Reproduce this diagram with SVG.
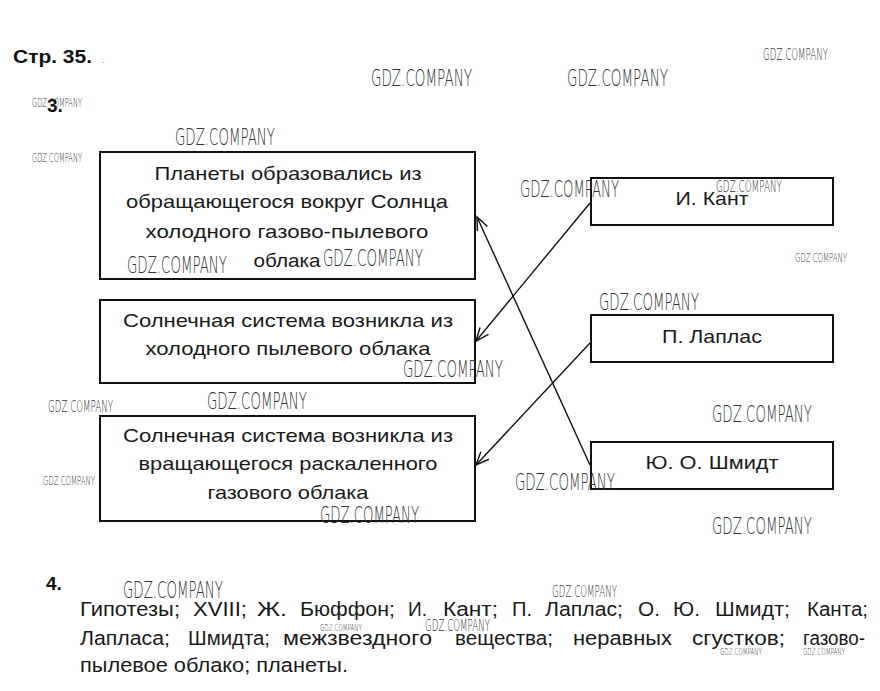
<svg xmlns="http://www.w3.org/2000/svg" width="880" height="691" viewBox="0 0 880 691">
<style>
.bg{fill:#fff}
.box{fill:#fff;stroke:#111;stroke-width:2}
.t{font-family:"Liberation Sans",Arial,sans-serif;font-size:19px;fill:#1a1a1a;text-anchor:middle}
.p{font-family:"Liberation Sans",Arial,sans-serif;font-size:20px;fill:#1a1a1a}
.h{font-family:"Liberation Sans",Arial,sans-serif;font-size:19px;font-weight:bold;fill:#111}
.wm{font-family:"DejaVu Sans",sans-serif;font-weight:200;fill:#333}
.wl{font-size:23px}
.wmd{font-size:16px}
.ws{font-size:12px}
.wt{font-size:9px}
.c{fill:none;stroke:#111;stroke-width:1.4}
</style>
<defs>
<marker id="ah" markerUnits="userSpaceOnUse" viewBox="-14 -7 16 14" refX="0" refY="0" markerWidth="16" markerHeight="14" orient="auto">
<path d="M-13,-5.5 L0,0 L-13,5.5" fill="none" stroke="#111" stroke-width="1.4"/>
</marker>
</defs>
<rect class="bg" x="0" y="0" width="880" height="691"/>

<text class="h" x="13" y="63" textLength="79" lengthAdjust="spacingAndGlyphs">Стр. 35.</text>
<text x="102" y="63" style="font-family:'Liberation Sans',sans-serif;font-size:10px;fill:#999">.</text>
<text class="h" x="47" y="112">3.</text>
<text class="h" x="46" y="590">4.</text>

<g id="n1">
<rect class="box" x="100" y="152" width="375" height="127"/>
<text class="t" x="288" y="180" textLength="267" lengthAdjust="spacingAndGlyphs">Планеты образовались из</text>
<text class="t" x="287" y="208" textLength="322" lengthAdjust="spacingAndGlyphs">обращающегося вокруг Солнца</text>
<text class="t" x="287" y="238" textLength="283" lengthAdjust="spacingAndGlyphs">холодного газово-пылевого</text>
<text class="t" x="287" y="267" textLength="67" lengthAdjust="spacingAndGlyphs">облака</text>
</g>
<g id="n2">
<rect class="box" x="100" y="300" width="375" height="83"/>
<text class="t" x="288" y="327" textLength="330" lengthAdjust="spacingAndGlyphs">Солнечная система возникла из</text>
<text class="t" x="288" y="355" textLength="285" lengthAdjust="spacingAndGlyphs">холодного пылевого облака</text>
</g>
<g id="n3">
<rect class="box" x="100" y="416" width="375" height="105"/>
<text class="t" x="288" y="442" textLength="330" lengthAdjust="spacingAndGlyphs">Солнечная система возникла из</text>
<text class="t" x="288" y="470" textLength="299" lengthAdjust="spacingAndGlyphs">вращающегося раскаленного</text>
<text class="t" x="288" y="499" textLength="161" lengthAdjust="spacingAndGlyphs">газового облака</text>
</g>
<g id="n4">
<rect class="box" x="591" y="178" width="242" height="47"/>
<text class="t" x="712" y="205" textLength="73" lengthAdjust="spacingAndGlyphs">И. Кант</text>
</g>
<g id="n5">
<rect class="box" x="591" y="315" width="242" height="47"/>
<text class="t" x="712" y="343" textLength="100" lengthAdjust="spacingAndGlyphs">П. Лаплас</text>
</g>
<g id="n6">
<rect class="box" x="591" y="442" width="242" height="47"/>
<text class="t" x="712" y="469" textLength="133" lengthAdjust="spacingAndGlyphs">Ю. О. Шмидт</text>
</g>

<g id="connectors">
<line class="c" x1="590" y1="203" x2="476" y2="341" marker-end="url(#ah)"/>
<line class="c" x1="590" y1="343" x2="476" y2="465" marker-end="url(#ah)"/>
<line class="c" x1="590" y1="465" x2="477" y2="217" marker-end="url(#ah)"/>
</g>

<g id="text4">
<text class="p" x="80" y="616" textLength="100" lengthAdjust="spacingAndGlyphs">Гипотезы;</text>
<text class="p" x="193" y="616" textLength="54" lengthAdjust="spacingAndGlyphs">XVIII;</text>
<text class="p" x="257" y="616" textLength="30" lengthAdjust="spacingAndGlyphs">Ж.</text>
<text class="p" x="300" y="616" textLength="95" lengthAdjust="spacingAndGlyphs">Бюффон;</text>
<text class="p" x="408" y="616" textLength="19" lengthAdjust="spacingAndGlyphs">И.</text>
<text class="p" x="443" y="616" textLength="55" lengthAdjust="spacingAndGlyphs">Кант;</text>
<text class="p" x="512" y="616" textLength="20" lengthAdjust="spacingAndGlyphs">П.</text>
<text class="p" x="545" y="616" textLength="78" lengthAdjust="spacingAndGlyphs">Лаплас;</text>
<text class="p" x="638" y="616" textLength="22" lengthAdjust="spacingAndGlyphs">О.</text>
<text class="p" x="673" y="616" textLength="27" lengthAdjust="spacingAndGlyphs">Ю.</text>
<text class="p" x="715" y="616" textLength="75" lengthAdjust="spacingAndGlyphs">Шмидт;</text>
<text class="p" x="807" y="616" textLength="61" lengthAdjust="spacingAndGlyphs">Канта;</text>
<text class="p" x="80" y="645" textLength="90" lengthAdjust="spacingAndGlyphs">Лапласа;</text>
<text class="p" x="188" y="645" textLength="82" lengthAdjust="spacingAndGlyphs">Шмидта;</text>
<text class="p" x="283" y="645" textLength="149" lengthAdjust="spacingAndGlyphs">межзвездного</text>
<text class="p" x="455" y="645" textLength="98" lengthAdjust="spacingAndGlyphs">вещества;</text>
<text class="p" x="573" y="645" textLength="99" lengthAdjust="spacingAndGlyphs">неравных</text>
<text class="p" x="692" y="645" textLength="93" lengthAdjust="spacingAndGlyphs">сгустков;</text>
<text class="p" x="803" y="645" textLength="62" lengthAdjust="spacingAndGlyphs">газово-</text>
<text class="p" x="80" y="672" textLength="268" lengthAdjust="spacingAndGlyphs">пылевое облако; планеты.</text>
</g>

<g id="watermarks">
<text class="wm wmd" x="763" y="60" textLength="65" lengthAdjust="spacingAndGlyphs">GDZ.COMPANY</text>
<text class="wm wl" x="371" y="86" textLength="101" lengthAdjust="spacingAndGlyphs">GDZ.COMPANY</text>
<text class="wm wl" x="567" y="86" textLength="101" lengthAdjust="spacingAndGlyphs">GDZ.COMPANY</text>
<text class="wm ws" x="32" y="107" textLength="50" lengthAdjust="spacingAndGlyphs">GDZ.COMPANY</text>
<text class="wm wl" x="175" y="145" textLength="100" lengthAdjust="spacingAndGlyphs">GDZ.COMPANY</text>
<text class="wm ws" x="32" y="162" textLength="50" lengthAdjust="spacingAndGlyphs">GDZ.COMPANY</text>
<text class="wm wl" x="520" y="197" textLength="99" lengthAdjust="spacingAndGlyphs">GDZ.COMPANY</text>
<text class="wm wmd" x="716" y="192" textLength="66" lengthAdjust="spacingAndGlyphs">GDZ.COMPANY</text>
<text class="wm wl" x="127" y="273" textLength="100" lengthAdjust="spacingAndGlyphs">GDZ.COMPANY</text>
<text class="wm wl" x="323" y="266" textLength="100" lengthAdjust="spacingAndGlyphs">GDZ.COMPANY</text>
<text class="wm ws" x="795" y="262" textLength="52" lengthAdjust="spacingAndGlyphs">GDZ.COMPANY</text>
<text class="wm wl" x="599" y="310" textLength="100" lengthAdjust="spacingAndGlyphs">GDZ.COMPANY</text>
<text class="wm wl" x="403" y="377" textLength="100" lengthAdjust="spacingAndGlyphs">GDZ.COMPANY</text>
<text class="wm wl" x="207" y="409" textLength="100" lengthAdjust="spacingAndGlyphs">GDZ.COMPANY</text>
<text class="wm wmd" x="48" y="412" textLength="65" lengthAdjust="spacingAndGlyphs">GDZ.COMPANY</text>
<text class="wm wl" x="712" y="422" textLength="100" lengthAdjust="spacingAndGlyphs">GDZ.COMPANY</text>
<text class="wm ws" x="43" y="485" textLength="52" lengthAdjust="spacingAndGlyphs">GDZ.COMPANY</text>
<text class="wm wl" x="515" y="490" textLength="100" lengthAdjust="spacingAndGlyphs">GDZ.COMPANY</text>
<text class="wm wl" x="320" y="523" textLength="99" lengthAdjust="spacingAndGlyphs">GDZ.COMPANY</text>
<text class="wm wl" x="712" y="534" textLength="100" lengthAdjust="spacingAndGlyphs">GDZ.COMPANY</text>
<text class="wm wl" x="123" y="598" textLength="100" lengthAdjust="spacingAndGlyphs">GDZ.COMPANY</text>
<text class="wm wmd" x="552" y="597" textLength="65" lengthAdjust="spacingAndGlyphs">GDZ.COMPANY</text>
<text class="wm wmd" x="425" y="631" textLength="65" lengthAdjust="spacingAndGlyphs">GDZ.COMPANY</text>
<text class="wm wt" x="320" y="631" textLength="42" lengthAdjust="spacingAndGlyphs">GDZ.COMPANY</text>
<text class="wm wt" x="720" y="655" textLength="42" lengthAdjust="spacingAndGlyphs">GDZ.COMPANY</text>
<text class="wm wt" x="803" y="655" textLength="42" lengthAdjust="spacingAndGlyphs">GDZ.COMPANY</text>
</g>
</svg>
